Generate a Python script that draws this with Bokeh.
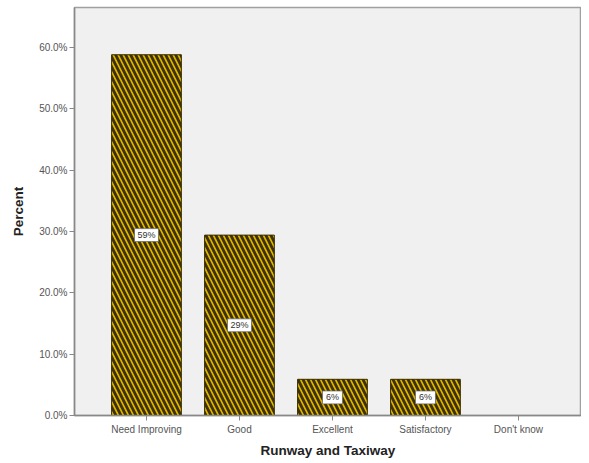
from bokeh.plotting import figure
from bokeh.models import Range1d, FixedTicker, PrintfTickFormatter, ColumnDataSource
from bokeh.core.properties import value
from bokeh.embed import file_html
from bokeh.resources import INLINE

categories = ["Need Improving", "Good", "Excellent", "Satisfactory", "Don't know"]
percents = [58.8, 29.4, 5.9, 5.9, 0.0]
bar_labels = ["59%", "29%", "6%", "6%", ""]
y_ticks = [0, 10, 20, 30, 40, 50, 60]
x_title = "Runway and Taxiway"
y_title = "Percent"

idx = list(range(len(categories)))
src = ColumnDataSource(dict(x=idx, top=percents))
lab_src = ColumnDataSource(dict(
    x=[i for i, l in zip(idx, bar_labels) if l],
    mid=[v / 2 for v, l in zip(percents, bar_labels) if l],
    lab=[l for l in bar_labels if l],
    w=[24 if len(l) > 2 else 20 for l in bar_labels if l],
))

p = figure(width=581, height=460, output_backend="svg", toolbar_location=None,
           x_range=Range1d(-0.774, 4.678), y_range=Range1d(0, 66.5),
           min_border_left=74, min_border_right=0, min_border_top=7, min_border_bottom=44)
p.background_fill_color = "#F0F0F0"
p.border_fill_color = "white"
p.outline_line_color = "#A0A0A0"
p.outline_line_width = 1.5
p.grid.visible = False

p.vbar(x="x", top="top", width=0.75, source=src,
       fill_color="#E0B800", line_color="#3A2E00", line_width=1,
       hatch_pattern="\\", hatch_color="#3E3000", hatch_scale=10, hatch_weight=2.8)

p.rect(x="x", y="mid", width="w", height=13, width_units="screen", height_units="screen",
       source=lab_src, fill_color="white", line_color="#666666", line_width=0.8)
p.text(x="x", y="mid", text="lab", source=lab_src, text_align="center",
       text_baseline="middle", text_font=value("Liberation Sans"),
       text_font_size="9px", text_color="#333333")

p.xaxis.ticker = FixedTicker(ticks=idx)
p.xaxis.major_label_overrides = {i: c for i, c in zip(idx, categories)}
p.yaxis.ticker = FixedTicker(ticks=y_ticks)
p.yaxis.formatter = PrintfTickFormatter(format="%.1f%%")

for ax in (p.xaxis[0], p.yaxis[0]):
    ax.axis_line_color = "#888888"
    ax.axis_line_width = 1.5
    ax.major_tick_line_color = "#888888"
    ax.major_tick_in = 0
    ax.major_tick_out = 5
    ax.minor_tick_line_color = None
    ax.major_label_text_font = "Liberation Sans"
    ax.major_label_text_font_size = "10px"
    ax.major_label_text_color = "#555555"
    ax.axis_label_text_font = "Liberation Sans"
    ax.axis_label_text_font_size = "13.5px"
    ax.axis_label_text_font_style = "bold"
    ax.axis_label_text_color = "#222222"

p.xaxis.axis_label = x_title
p.yaxis.axis_label = y_title
p.xaxis.major_label_standoff = 3
p.xaxis.axis_label_standoff = 5
p.yaxis.major_label_standoff = 2
p.yaxis.axis_label_standoff = 10

open("out.html", "w").write(file_html(p, INLINE))
